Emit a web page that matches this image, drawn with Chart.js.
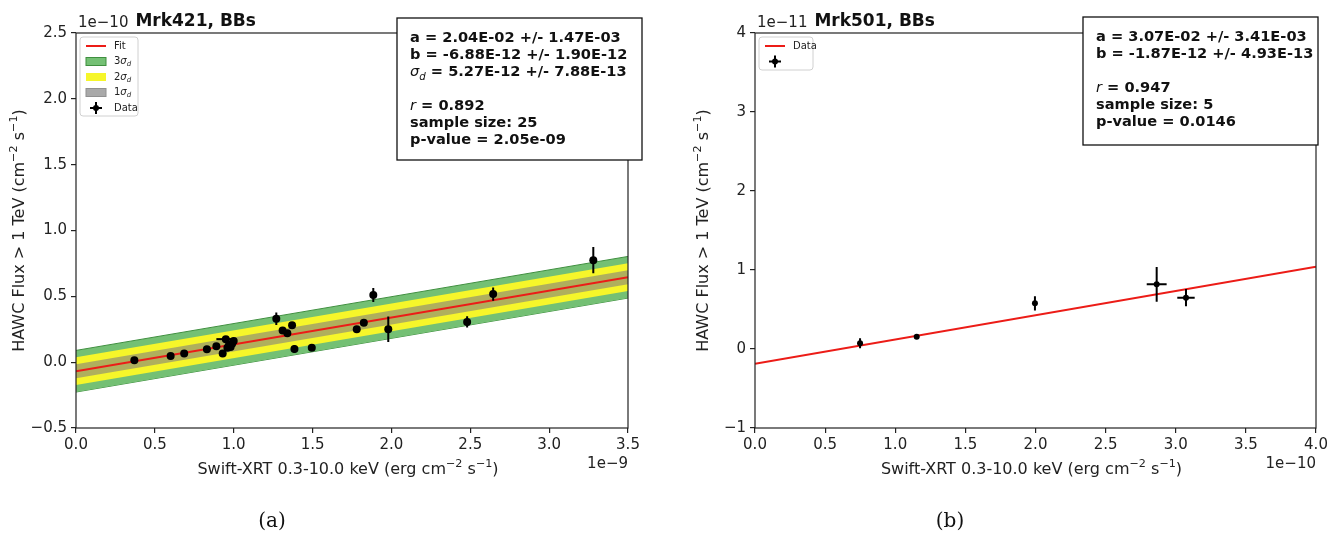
<!DOCTYPE html>
<html>
<head>
<meta charset="utf-8">
<script src="https://cdn.jsdelivr.net/npm/chart.js@4.4.1/dist/chart.umd.min.js"></script>
<style>
  body { margin: 0; background: #fff; width: 1344px; height: 536px; overflow: hidden; position: relative; }
  .panel { position: absolute; top: 0; width: 672px; height: 536px; }
</style>
</head>
<body>
<div class="panel" style="left:0"><canvas id="mrk421" width="672" height="536"></canvas></div>
<div class="panel" style="left:672px"><canvas id="mrk501" width="672" height="536"></canvas></div>
<script>
// ---- Mrk421 (x in 1e-9, y in 1e-10) ----
const mrk421X    = [0.37, 0.60, 0.686, 0.83, 0.89, 0.93, 0.95, 0.96, 0.97, 0.98, 0.99, 1.00, 1.27, 1.31, 1.34, 1.37, 1.385, 1.495, 1.78, 1.825, 1.885, 1.98, 2.48, 2.645, 3.28];
const mrk421Y    = [0.015, 0.046, 0.066, 0.099, 0.12, 0.066, 0.175, 0.11, 0.13, 0.116, 0.14, 0.16, 0.33, 0.24, 0.22, 0.28, 0.10, 0.109, 0.25, 0.30, 0.51, 0.25, 0.306, 0.517, 0.775];
const mrk421YErr = [0.015, 0, 0, 0, 0, 0.02, 0.02, 0, 0, 0, 0, 0, 0.047, 0, 0, 0, 0.03, 0, 0, 0, 0.053, 0.097, 0.043, 0.05, 0.099];
const mrk421XErr = [0, 0, 0, 0, 0, 0, 0.06, 0, 0, 0, 0, 0, 0, 0, 0, 0, 0, 0, 0, 0, 0, 0, 0, 0, 0];
const mrk421FitX = [0, 3.5];
const mrk421FitY = [-0.0688, 0.645];
const mrk421Sigma = 0.0527;
const mrk421XTicks = [0, 0.5, 1.0, 1.5, 2.0, 2.5, 3.0, 3.5];
const mrk421YTicks = [-0.5, 0.0, 0.5, 1.0, 1.5, 2.0, 2.5];
const mrk421Stats = [
  [{ t: 'a = 2.04E-02 +/- 1.47E-03', s: 'bold' }],
  [{ t: 'b = -6.88E-12 +/- 1.90E-12', s: 'bold' }],
  [{ t: 'σ', s: 'italic' }, { t: 'd', s: 'italic', sub: true }, { t: ' = 5.27E-12 +/- 7.88E-13', s: 'bold' }],
  [],
  [{ t: 'r', s: 'italic' }, { t: ' = 0.892', s: 'bold' }],
  [{ t: 'sample size: 25', s: 'bold' }],
  [{ t: 'p-value = 2.05e-09', s: 'bold' }]
];

// ---- Mrk501 (x in 1e-10, y in 1e-11) ----
const mrk501X    = [0.749, 1.153, 1.996, 2.864, 3.073];
const mrk501Y    = [0.072, 0.156, 0.578, 0.819, 0.65];
const mrk501YErr = [0.063, 0, 0.09, 0.22, 0.11];
const mrk501XErr = [0.012, 0, 0.012, 0.071, 0.062];
const mrk501FitX = [0, 4.0];
const mrk501FitY = [-0.187, 1.041];
const mrk501XTicks = [0, 0.5, 1.0, 1.5, 2.0, 2.5, 3.0, 3.5, 4.0];
const mrk501YTicks = [-1, 0, 1, 2, 3, 4];
const mrk501Stats = [
  [{ t: 'a = 3.07E-02 +/- 3.41E-03', s: 'bold' }],
  [{ t: 'b = -1.87E-12 +/- 4.93E-13', s: 'bold' }],
  [],
  [{ t: 'r', s: 'italic' }, { t: ' = 0.947', s: 'bold' }],
  [{ t: 'sample size: 5', s: 'bold' }],
  [{ t: 'p-value = 0.0146', s: 'bold' }]
];

const xTitleRuns = [{ t: 'Swift-XRT 0.3-10.0 keV (erg cm' }, { t: '\u22122', sup: true }, { t: ' s' }, { t: '\u22121', sup: true }, { t: ')' }];
const yTitleRuns = [{ t: 'HAWC Flux > 1 TeV (cm' }, { t: '\u22122', sup: true }, { t: ' s' }, { t: '\u22121', sup: true }, { t: ')' }];

const FONT = '"DejaVu Sans", sans-serif';
const GREEN = '#74c074', GREEN_EDGE = '#3f8f3f', YELLOW = '#f6f62a', GRAY = 'rgba(128,128,128,0.6)', RED = '#ec1c17';
const minus = v => String(v).replace('-', '\u2212');

function line(xs, ys) { return xs.map((x, i) => ({ x: x, y: ys[i] })); }

function errSegments(xs, ys, errs, vertical) {
  const out = [];
  xs.forEach((x, i) => {
    const e = errs[i];
    if (!e) return;
    if (vertical) out.push({ x: x, y: ys[i] - e }, { x: x, y: ys[i] + e });
    else out.push({ x: x - e, y: ys[i] }, { x: x + e, y: ys[i] });
    out.push({ x: x, y: null });
  });
  return out;
}

function drawRuns(ctx, runs, x, y, size) {
  runs.forEach(r => {
    const fs = r.sub ? size * 0.7 : size;
    ctx.font = (r.s === 'bold' ? 'bold ' : 'italic ') + fs + 'px ' + FONT;
    ctx.fillText(r.t, x, r.sub ? y + 4 : y);
    x += ctx.measureText(r.t).width;
  });
}

// centered label with superscripts
function drawLabel(ctx, runs, cx, y, size) {
  const fontOf = r => (r.sup ? size * 0.7 : size) + 'px ' + FONT;
  let total = 0;
  runs.forEach(r => { ctx.font = fontOf(r); total += ctx.measureText(r.t).width; });
  let x = cx - total / 2;
  ctx.textAlign = 'left';
  runs.forEach(r => {
    ctx.font = fontOf(r);
    ctx.fillText(r.t, x, r.sup ? y - size * 0.42 : y);
    x += ctx.measureText(r.t).width;
  });
}

function dataMarker(ctx, x, y) {
  ctx.strokeStyle = '#000'; ctx.lineWidth = 2;
  ctx.beginPath(); ctx.moveTo(x - 6, y); ctx.lineTo(x + 6, y); ctx.moveTo(x, y - 6); ctx.lineTo(x, y + 6); ctx.stroke();
  ctx.fillStyle = '#000'; ctx.beginPath(); ctx.arc(x, y, 3, 0, Math.PI * 2); ctx.fill();
}

const decorPlugin = {
  id: 'decor',
  afterDraw(chart) {
    const o = chart.options.plugins.decor;
    const ctx = chart.ctx, a = chart.chartArea;
    ctx.save();
    // spines
    ctx.strokeStyle = '#222'; ctx.lineWidth = 1.2;
    ctx.strokeRect(a.left, a.top, a.right - a.left, a.bottom - a.top);

    ctx.fillStyle = '#222'; ctx.textBaseline = 'alphabetic';
    // offset texts
    ctx.font = '15px ' + FONT; ctx.textAlign = 'left';
    ctx.fillText(o.yOffset, a.left + 2, a.top - 6);
    const yw = ctx.measureText(o.yOffset).width;
    ctx.textAlign = 'right';
    ctx.fillText(o.xOffset, a.right, a.bottom + 40);
    // title
    ctx.font = 'bold 17px ' + FONT; ctx.textAlign = 'left'; ctx.fillStyle = '#111';
    ctx.fillText(o.title, a.left + yw + 9, a.top - 7);
    // axis titles
    ctx.fillStyle = '#222';
    drawLabel(ctx, xTitleRuns, (a.left + a.right) / 2 - 4, a.bottom + 46, 16);
    ctx.save();
    ctx.translate(o.yTitleX, (a.top + a.bottom) / 2);
    ctx.rotate(-Math.PI / 2);
    drawLabel(ctx, yTitleRuns, 0, 0, 16);
    ctx.restore();
    // caption
    ctx.font = '20px "DejaVu Serif", serif'; ctx.fillStyle = '#111'; ctx.textAlign = 'center';
    ctx.fillText(o.caption, o.captionX, 527);

    // stats box
    const b = o.box;
    ctx.fillStyle = '#fff'; ctx.fillRect(b.x, b.y, b.w, b.h);
    ctx.strokeStyle = '#111'; ctx.lineWidth = 1.3; ctx.strokeRect(b.x, b.y, b.w, b.h);
    ctx.fillStyle = '#111'; ctx.textAlign = 'left';
    o.stats.forEach((runs, i) => drawRuns(ctx, runs, b.x + 13, b.y + 24 + i * 17, 14.6));

    // legend
    const L = o.legend;
    ctx.fillStyle = 'rgba(255,255,255,0.9)'; ctx.strokeStyle = '#d0d0d0'; ctx.lineWidth = 1;
    ctx.beginPath(); ctx.roundRect(L.x, L.y, L.w, L.h, 3); ctx.fill(); ctx.stroke();
    ctx.font = '10px ' + FONT; ctx.textBaseline = 'middle';
    L.items.forEach((it, i) => {
      const cy = L.y + 9 + i * 15.5, hx = L.x + 6;
      if (it.kind === 'line') {
        ctx.strokeStyle = RED; ctx.lineWidth = 2;
        ctx.beginPath(); ctx.moveTo(hx, cy); ctx.lineTo(hx + 20, cy); ctx.stroke();
      } else if (it.kind === 'patch') {
        ctx.fillStyle = it.fill; ctx.fillRect(hx, cy - 4, 20, 8);
        if (it.edge) { ctx.strokeStyle = it.edge; ctx.lineWidth = 1; ctx.strokeRect(hx, cy - 4, 20, 8); }
      } else {
        dataMarker(ctx, hx + 10, cy);
      }
      if (it.label) {
        ctx.fillStyle = '#222';
        if (it.sigma) {
          ctx.font = '10px ' + FONT; ctx.fillText(it.label, hx + 28, cy);
          let w = ctx.measureText(it.label).width;
          ctx.font = 'italic 10px ' + FONT; ctx.fillText('σ', hx + 28 + w, cy);
          w += ctx.measureText('σ').width;
          ctx.font = 'italic 7px ' + FONT; ctx.fillText('d', hx + 28 + w, cy + 3);
        } else {
          ctx.font = '10px ' + FONT; ctx.fillText(it.label, hx + 28, cy);
        }
      }
    });
    ctx.restore();
  }
};

function scales(xTicks, yTicks, yWidth, xFmt, yFmt) {
  const common = {
    type: 'linear',
    grid: { display: true, drawOnChartArea: false, drawTicks: true, tickLength: 5, color: '#222', lineWidth: 1.2 },
    border: { display: false },
    ticks: { color: '#222', font: { family: FONT, size: 15 } }
  };
  return {
    x: Object.assign({}, common, {
      min: xTicks[0], max: xTicks[xTicks.length - 1],
      afterBuildTicks: s => { s.ticks = xTicks.map(v => ({ value: v })); },
      afterFit: s => { s.height = 108; },
      ticks: Object.assign({}, common.ticks, { padding: 3, maxRotation: 0, callback: xFmt })
    }),
    y: Object.assign({}, common, {
      min: yTicks[0], max: yTicks[yTicks.length - 1],
      afterBuildTicks: s => { s.ticks = yTicks.map(v => ({ value: v })); },
      afterFit: s => { s.width = yWidth; },
      ticks: Object.assign({}, common.ticks, { padding: 4, callback: yFmt })
    })
  };
}

const oneDec = v => minus(Number(v).toFixed(1));
const intFmt = v => minus(Number(v).toFixed(0));

// band edges from fit +/- k sigma
const band = k => [mrk421FitY.map(y => y + k * mrk421Sigma), mrk421FitY.map(y => y - k * mrk421Sigma)];
const b3 = band(3), b2 = band(2), b1 = band(1);

new Chart(document.getElementById('mrk421'), {
  type: 'scatter',
  data: {
    datasets: [
      { type: 'line', data: line(mrk421FitX, b3[0]), fill: 1, backgroundColor: GREEN, borderColor: GREEN_EDGE, borderWidth: 1, pointRadius: 0, order: 6 },
      { type: 'line', data: line(mrk421FitX, b3[1]), fill: false, borderColor: GREEN_EDGE, borderWidth: 1, pointRadius: 0, order: 6 },
      { type: 'line', data: line(mrk421FitX, b2[0]), fill: 3, backgroundColor: YELLOW, borderWidth: 0, borderColor: 'rgba(0,0,0,0)', pointRadius: 0, order: 5 },
      { type: 'line', data: line(mrk421FitX, b2[1]), fill: false, borderWidth: 0, borderColor: 'rgba(0,0,0,0)', pointRadius: 0, order: 5 },
      { type: 'line', data: line(mrk421FitX, b1[0]), fill: 5, backgroundColor: GRAY, borderWidth: 0, borderColor: 'rgba(0,0,0,0)', pointRadius: 0, order: 4 },
      { type: 'line', data: line(mrk421FitX, b1[1]), fill: false, borderWidth: 0, borderColor: 'rgba(0,0,0,0)', pointRadius: 0, order: 4 },
      { type: 'line', data: line(mrk421FitX, mrk421FitY), borderColor: RED, borderWidth: 2, pointRadius: 0, fill: false, order: 3 },
      { type: 'line', data: errSegments(mrk421X, mrk421Y, mrk421YErr, true), borderColor: '#000', borderWidth: 2, pointRadius: 0, spanGaps: false, fill: false, order: 2 },
      { type: 'line', data: errSegments(mrk421X, mrk421Y, mrk421XErr, false), borderColor: '#000', borderWidth: 2, pointRadius: 0, spanGaps: false, fill: false, order: 2 },
      { data: line(mrk421X, mrk421Y), pointRadius: 4, pointBackgroundColor: '#000', pointBorderWidth: 0, order: 1 }
    ]
  },
  options: {
    responsive: false, animation: false, devicePixelRatio: 1,
    layout: { padding: { top: 33, right: 44, left: 0, bottom: 0 } },
    scales: scales(mrk421XTicks, mrk421YTicks, 76, oneDec, oneDec),
    plugins: {
      legend: { display: false }, tooltip: { enabled: false },
      decor: {
        title: 'Mrk421, BBs', yOffset: '1e\u221210', xOffset: '1e\u22129', yTitleX: 24,
        caption: '(a)', captionX: 272,
        box: { x: 397, y: 18, w: 245, h: 142 }, stats: mrk421Stats,
        legend: { x: 80, y: 37, w: 58, h: 79, items: [
          { kind: 'line', label: 'Fit' },
          { kind: 'patch', fill: GREEN, edge: GREEN_EDGE, label: '3', sigma: true },
          { kind: 'patch', fill: YELLOW, label: '2', sigma: true },
          { kind: 'patch', fill: '#a9a9a9', edge: '#909090', label: '1', sigma: true },
          { kind: 'marker', label: 'Data' }
        ] }
      }
    }
  },
  plugins: [decorPlugin]
});

new Chart(document.getElementById('mrk501'), {
  type: 'scatter',
  data: {
    datasets: [
      { type: 'line', data: line(mrk501FitX, mrk501FitY), borderColor: RED, borderWidth: 2, pointRadius: 0, fill: false, order: 3 },
      { type: 'line', data: errSegments(mrk501X, mrk501Y, mrk501YErr, true), borderColor: '#000', borderWidth: 2, pointRadius: 0, spanGaps: false, fill: false, order: 2 },
      { type: 'line', data: errSegments(mrk501X, mrk501Y, mrk501XErr, false), borderColor: '#000', borderWidth: 2, pointRadius: 0, spanGaps: false, fill: false, order: 2 },
      { data: line(mrk501X, mrk501Y), pointRadius: 3, pointBackgroundColor: '#000', pointBorderWidth: 0, order: 1 }
    ]
  },
  options: {
    responsive: false, animation: false, devicePixelRatio: 1,
    layout: { padding: { top: 33, right: 28, left: 0, bottom: 0 } },
    scales: scales(mrk501XTicks, mrk501YTicks, 83, oneDec, intFmt),
    plugins: {
      legend: { display: false }, tooltip: { enabled: false },
      decor: {
        title: 'Mrk501, BBs', yOffset: '1e\u221211', xOffset: '1e\u221210', yTitleX: 36,
        caption: '(b)', captionX: 278,
        box: { x: 411, y: 17, w: 235, h: 128 }, stats: mrk501Stats,
        legend: { x: 87, y: 37, w: 54, h: 33, items: [
          { kind: 'line', label: 'Data' },
          { kind: 'marker' }
        ] }
      }
    }
  },
  plugins: [decorPlugin]
});
</script>
</body>
</html>
